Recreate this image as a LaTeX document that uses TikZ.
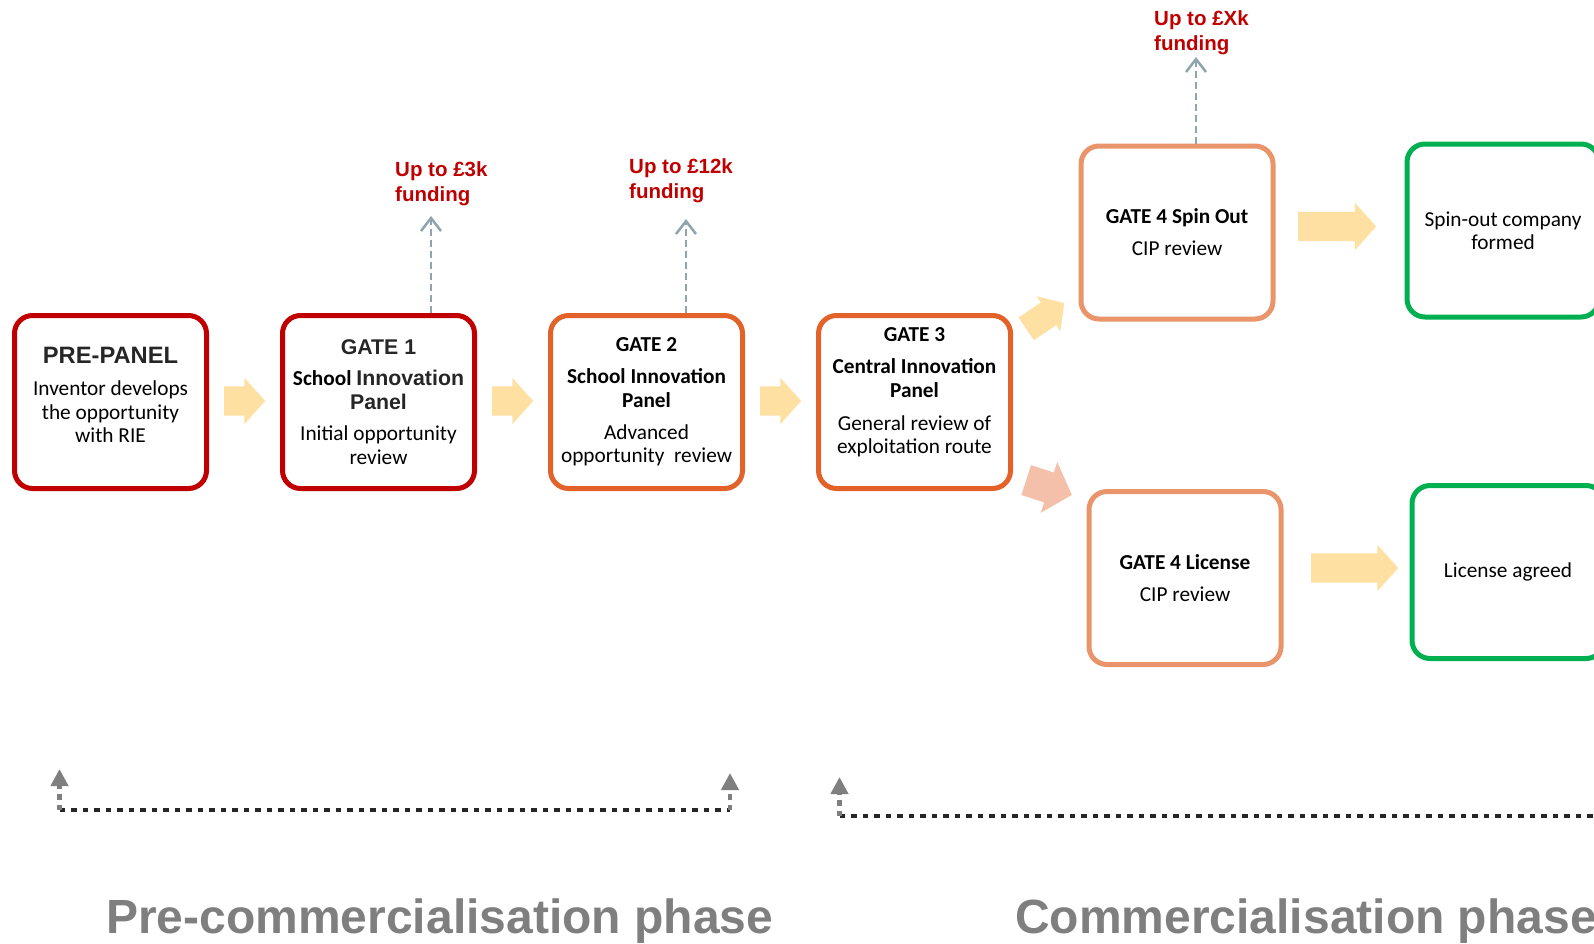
\documentclass[tikz,border=0pt]{standalone}
\usepackage{fontspec}
\setmainfont{Carlito}
\newfontfamily\arialfont{Liberation Sans}
\usetikzlibrary{positioning,calc,shapes.arrows,arrows.meta}

\definecolor{gatered}{HTML}{C00000}
\definecolor{gateorange}{HTML}{E2622A}
\definecolor{gatepeach}{HTML}{E9946A}
\definecolor{gategreen}{HTML}{00B050}
\definecolor{arrowgold}{HTML}{FFE0A3}
\definecolor{arrowpink}{HTML}{F4C0AA}
\definecolor{fundline}{HTML}{8FA5AD}
\definecolor{phasegray}{HTML}{7F7F7F}
\definecolor{headgray}{HTML}{262626}

\newcommand\ahead[1]{{\arialfont\bfseries\color{headgray}#1}}

\begin{document}
\begin{tikzpicture}[x=1pt, y=-1pt,
    gatetext/.style = {align=center, font=\fontsize{21.3}{23.5}\selectfont},
    gate/.style     = {gatetext, draw=#1, line width=5pt, rounded corners=18pt,
      minimum width=192pt, minimum height=173pt},
    flow/.style     = {single arrow, fill=#1, draw=none, anchor=tail, inner xsep=0pt,
      inner ysep=14.5pt, single arrow tip angle=96, minimum height=41pt,
      single arrow head extend=8.5pt},
    fund/.style     = {draw=fundline, line width=2.5pt, dash pattern=on 7pt off 4pt,
      -{Straight Barb[width=20pt,length=13pt]}},
    fundtext/.style = {text=gatered, align=left, anchor=west, inner sep=0pt,
      font=\arialfont\bfseries\fontsize{20.5}{25}\selectfont},
    phase/.style    = {text=phasegray, anchor=base west, inner sep=0pt,
      font=\arialfont\bfseries\fontsize{48}{50}\selectfont},
    span/.style     = {draw=headgray, line width=4.5pt, dash pattern=on 5.5pt off 6pt},
    spanend/.style  = {draw=phasegray, line width=4.5pt, dash pattern=on 5.5pt off 5pt,
      -{Triangle[width=17pt,length=17pt]}},
  ]
  \useasboundingbox (0,0) rectangle (1594,943);
  \clip (0,0) rectangle (1594,943);

  % pre-commercialisation gates
  \node[gate=gatered, label={[gatetext,yshift=7pt]center:{\ahead{\fontsize{23.7}{26}\selectfont PRE-PANEL}\\[8.5pt]
    Inventor develops\\ the opportunity\\ with RIE}}] (pre) at (110.5,402) {};
  \node[gate=gatered] (g1) [right=71pt of pre] {\ahead{GATE 1}\\[8pt]
    {\bfseries School} \ahead{Innovation}\\ \ahead{Panel}\\[8pt] Initial opportunity\\ review};
  \node[gate=gateorange] (g2) [right=71pt of g1] {\textbf{GATE 2}\\[8.5pt]
    \textbf{School Innovation}\\ \textbf{Panel}\\[8.5pt] Advanced\\ opportunity~ review};
  \node[gate=gateorange, label={[gatetext,yshift=10pt]center:{\textbf{GATE 3}\\[9pt]
    \textbf{Central Innovation}\\ \textbf{Panel}\\[9.5pt] General review of\\ exploitation route}}]
    (g3) [right=71pt of g2] {};

  % commercialisation routes
  \node[gate=gatepeach] (sp) at (1177,232.5) {\textbf{GATE 4 Spin Out}\\[8.5pt] CIP review};
  \node[gate=gatepeach] (li) at (1185,578) {\textbf{GATE 4 License}\\[8.5pt] CIP review};
  \node[gate=gategreen] (sc) at (1503,230.5) {Spin-out company\\ formed};
  \node[gate=gategreen] (la) at (1508,572) {License agreed};

  \node[flow=arrowgold] (a1) at ($(pre.east)!.5!(g1.west)+(-20.5,-1)$) {};
  \node[flow=arrowgold] (a2) at ($(g1.east)!.5!(g2.west)+(-20.5,-1)$) {};
  \node[flow=arrowgold] (a3) at ($(g2.east)!.5!(g3.west)+(-20.5,-1)$) {};
  \node[flow=arrowgold, rotate=34, minimum height=46pt, inner ysep=13.5pt,
    single arrow head extend=7.5pt] (a4) at (1026,329) {};
  \node[flow=arrowpink, rotate=-18, minimum height=48pt, inner ysep=15.5pt,
    single arrow head extend=11pt] (a5) at (1026,480) {};
  \node[flow=arrowgold, minimum height=78pt, single arrow head extend=9pt] (a6) at (1298,226.5) {};
  \node[flow=arrowgold, minimum height=87pt] (a7) at (1311,568) {};

  % funding
  \coordinate (f1) at (431,216);
  \coordinate (f2) at (686,219);
  \coordinate (f3) at (1196,57);
  \draw[fund] (g1.north -| f1) -- (f1);
  \draw[fund] (g2.north -| f2) -- (f2);
  \draw[fund] (sp.north -| f3) -- (f3);
  \node[fundtext] (f1t) at (395,184) {Up to £3k\\funding};
  \node[fundtext] (f2t) at (629,181) {Up to £12k\\funding};
  \node[fundtext] (f3t) at (1154,33) {Up to £Xk\\funding};

  % phases
  \coordinate (s1) at (59.5,810);
  \coordinate (s1up) at (59.5,769);
  \coordinate (s2) at (730,810);
  \coordinate (s2up) at (730,773);
  \coordinate (s3) at (839.5,816);
  \coordinate (s3up) at (839.5,777);
  \coordinate (s4) at (1600,816);
  \draw[span] (s1) -- (s2);
  \draw[spanend] (s1) -- (s1up);
  \draw[spanend] (s2) -- (s2up);
  \draw[span] (s3) -- (s4);
  \draw[spanend] (s3) -- (s3up);
  \node[phase] (pc) at (106,933) {Pre-commercialisation phase};
  \node[phase] (cp) at (1015,933) {Commercialisation phase};
\end{tikzpicture}
\end{document}
